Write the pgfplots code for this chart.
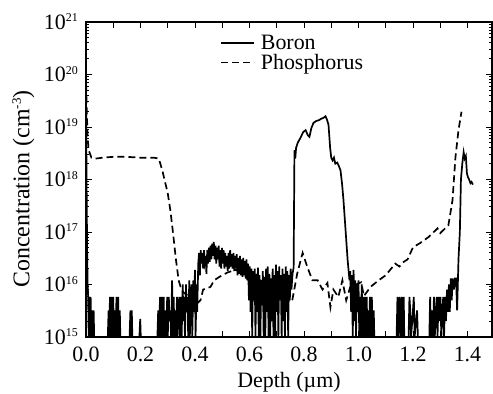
\documentclass[border=0pt]{standalone}
\usepackage{fontspec}
\setmainfont{Liberation Serif}
\usepackage{pgfplots}
\pgfplotsset{compat=1.18}
\newcommand{\tsup}[1]{\raisebox{7.5bp}{\fontsize{12}{12}\selectfont #1}}
\newcommand{\lsup}[1]{\raisebox{8.5bp}{\fontsize{13}{13}\selectfont #1}}
\begin{document}
\begin{tikzpicture}
\begin{axis}[
  at={(0,0)}, anchor=south west,
  scale only axis,
  width=406bp, height=315bp,
  ymode=log,
  xmin=0, xmax=1.49,
  ymin=1e15, ymax=1e21,
  xtick={0,0.1,...,1.41},
  xticklabels={0.0,,0.2,,0.4,,0.6,,0.8,,1.0,,1.2,,1.4},
  ytick={1e15,1e16,1e17,1e18,1e19,1e20,1e21},
  yticklabels={10\tsup{15},10\tsup{16},10\tsup{17},10\tsup{18},10\tsup{19},10\tsup{20},10\tsup{21}},
  tick align=inside,
  major tick length=6bp,
  minor tick length=3.5bp,
  tick style={line width=0.9bp, black},
  axis line style={line width=1.2bp},
  tick label style={font=\fontsize{22}{22}\selectfont},
  yticklabel style={anchor=base east, inner sep=0pt, xshift=-8bp, yshift=-7.5bp},
  xticklabel style={anchor=north, inner sep=0pt, yshift=-10bp},
  xlabel={Depth (µm)},
  ylabel={Concentration (cm\lsup{-3})},
  xlabel style={font=\fontsize{22}{22}\selectfont, at={(axis description cs:0.5,0)}, anchor=base, yshift=-51bp, inner sep=0pt},
  ylabel style={font=\fontsize{24}{24}\selectfont, at={(axis description cs:-0.154,0.47)}, anchor=center, rotate=0, inner sep=0pt},
  legend style={at={(axis description cs:0.33,0.965)}, anchor=north west, draw=none, fill=none,
    font=\fontsize{22}{22}\selectfont, row sep=-1bp, inner sep=0pt, nodes={inner sep=2bp}},
  legend cell align=left,
  legend image code/.code={\draw[#1] (0bp,0bp) -- (33bp,0bp); \path (37bp,0bp);},
]
\addplot[black, line width=1.7bp] coordinates {
(0.000,5e19)(0.002,1e18)(0.004,5e16)(0.006,1e16)(0.008,5.8e15)(0.010,1e15)(0.012,5.8e15)(0.014,1e15)
(0.017,5.8e15)(0.019,1e15)(0.022,3.2e15)(0.024,1e15)(0.028,3.2e15)(0.030,1e15)(0.080,1e15)(0.083,3.2e15)
(0.085,1e15)(0.088,5.8e15)(0.090,1e15)(0.094,5.8e15)(0.096,1e15)(0.100,5.8e15)(0.102,1e15)(0.106,3.2e15)
(0.108,1e15)(0.112,5.8e15)(0.114,1e15)(0.118,5.8e15)(0.120,1e15)(0.124,3.2e15)(0.126,1e15)(0.160,1e15)
(0.163,3.2e15)(0.165,1e15)(0.168,3.2e15)(0.170,1e15)(0.196,1e15)(0.199,2.2e15)(0.201,1e15)(0.262,1e15)
(0.265,3.2e15)(0.267,1e15)(0.272,5.8e15)(0.274,1e15)(0.279,5.8e15)(0.281,1e15)(0.285,5.8e15)(0.287,1e15)
(0.292,3.2e15)(0.294,1e15)(0.298,5.8e15)(0.300,1e15)(0.304,5.8e15)(0.306,2e15)(0.310,3.2e15)(0.312,1e15)
(0.316,1.2e16)(0.318,1e15)(0.322,5.8e15)(0.324,1e15)(0.328,3.2e15)(0.330,1e15)(0.334,5.8e15)(0.336,1e15)
(0.340,3.2e15)(0.342,5.8e15)(0.345,1e15)(0.349,5.8e15)(0.351,1e15)(0.355,1e16)(0.357,2e15)(0.361,5.8e15)
(0.363,1e15)(0.367,1e16)(0.369,3e15)(0.373,5.8e15)(0.375,1e15)(0.379,1.2e16)(0.381,1e15)(0.385,5.8e15)
(0.387,1e16)(0.390,1e15)(0.394,1.2e16)(0.396,3e15)(0.400,1.9e16)(0.402,1e15)(0.406,1e16)(0.408,3e15)
(0.412,2.5e16)(0.415,4e16)(0.418,1.5e16)(0.421,4.5e16)(0.424,2.5e16)(0.427,4e16)(0.430,2e16)(0.433,4.5e16)
(0.436,2.7e16)(0.439,3.5e16)(0.442,1.6e16)(0.445,4.5e16)(0.448,2.5e16)(0.451,5e16)(0.454,2.7e16)(0.457,5.5e16)
(0.460,3e16)(0.463,6e16)(0.466,3.5e16)(0.469,6.5e16)(0.472,3e16)(0.475,5.5e16)(0.478,2.5e16)(0.481,5e16)
(0.484,3e16)(0.487,5.5e16)(0.490,2.2e16)(0.493,4.5e16)(0.496,2e16)(0.499,5e16)(0.502,2.5e16)(0.505,4.5e16)
(0.508,2e16)(0.511,4e16)(0.514,2.2e16)(0.517,3.5e16)(0.520,1.8e16)(0.523,4e16)(0.526,2e16)(0.529,4.5e16)
(0.532,2.2e16)(0.535,3.8e16)(0.538,2e16)(0.541,4e16)(0.544,1.8e16)(0.547,3.5e16)(0.550,2e16)(0.553,3.8e16)
(0.556,1.5e16)(0.559,3.2e16)(0.562,1.6e16)(0.565,3.5e16)(0.568,1.5e16)(0.571,3e16)(0.574,1.4e16)(0.577,3.2e16)
(0.580,1.5e16)(0.583,2.8e16)(0.586,1.3e16)(0.589,3e16)(0.592,1.2e16)(0.595,2.5e16)(0.598,5e15)(0.601,2.2e16)
(0.604,3e15)(0.607,2e16)(0.610,1e15)(0.613,1.8e16)(0.616,5e15)(0.619,2e16)(0.622,1e15)(0.625,1.6e16)
(0.628,3e15)(0.631,2.1e16)(0.634,1e15)(0.637,1.5e16)(0.640,1e15)(0.643,1.2e16)(0.646,4e15)(0.649,1.8e16)
(0.652,1e15)(0.655,1.4e16)(0.658,1e15)(0.661,2e16)(0.664,3e15)(0.667,2.2e16)(0.670,1e15)(0.673,1.6e16)
(0.676,1e15)(0.679,1.3e16)(0.682,2e15)(0.685,2e16)(0.688,1e15)(0.691,1.5e16)(0.694,1e15)(0.697,2.4e16)
(0.700,3e15)(0.703,1.8e16)(0.706,1e15)(0.709,2.2e16)(0.712,5e15)(0.715,1.5e16)(0.718,1e15)(0.721,2e16)
(0.724,2e15)(0.727,1.6e16)(0.730,1e15)(0.733,2.2e16)(0.736,3e15)(0.739,1.8e16)(0.742,1e15)(0.745,1.5e16)
(0.748,5e15)(0.751,2e16)(0.754,8e15)(0.758,1.6e16)(0.762,2.1e16)(0.765,3.6e18)(0.768,2.5e18)(0.771,4e18)
(0.777,5e18)(0.787,6.2e18)(0.797,8e18)(0.806,8.7e18)(0.814,7e18)(0.820,6.5e18)(0.827,9.5e18)(0.835,1.2e19)
(0.845,1.3e19)(0.855,1.35e19)(0.865,1.45e19)(0.872,1.5e19)(0.879,1.6e19)(0.884,1.4e19)(0.890,1.1e19)(0.896,4e18)
(0.900,2.6e18)(0.905,2.3e18)(0.910,2.6e18)(0.915,2.0e18)(0.922,2.1e18)(0.928,1.8e18)(0.934,1.5e18)(0.940,8e17)
(0.945,4e17)(0.952,1.2e17)(0.960,3e16)(0.967,1.2e16)(0.970,1.8e16)(0.973,3e15)(0.976,1.5e16)(0.979,1e15)
(0.982,1.9e16)(0.985,2e15)(0.988,1.2e16)(0.991,1e15)(0.994,1e16)(0.997,3e15)(1.000,1.2e16)(1.003,1e15)
(1.006,5.8e15)(1.009,1e15)(1.012,1e16)(1.015,1e15)(1.018,5.8e15)(1.021,1e15)(1.024,5.8e15)(1.027,1e15)
(1.030,5.8e15)(1.033,1e15)(1.036,3.2e15)(1.039,1e15)(1.042,5.8e15)(1.045,1e15)(1.049,5.8e15)(1.052,1e15)
(1.056,3.2e15)(1.058,1e15)(1.140,1e15)(1.143,5.8e15)(1.145,1e15)(1.151,5.8e15)(1.153,1e15)(1.159,5.8e15)
(1.161,1e15)(1.166,5.8e15)(1.168,1e15)(1.184,1e15)(1.187,5.8e15)(1.190,3.2e15)(1.193,1e15)(1.200,3.2e15)
(1.203,5.8e15)(1.206,1e15)(1.215,3.2e15)(1.218,1e15)(1.260,1e15)(1.263,5.8e15)(1.266,1e15)(1.270,3.2e15)
(1.273,1e15)(1.277,5.8e15)(1.280,1e15)(1.284,3.2e15)(1.287,5.8e15)(1.290,1e15)(1.294,5.8e15)(1.297,2e15)
(1.301,5.8e15)(1.304,1e15)(1.308,3.2e15)(1.311,5.8e15)(1.314,1e15)(1.318,5.8e15)(1.321,2e15)(1.325,8e15)
(1.328,3e15)(1.332,1e16)(1.335,3e15)(1.339,1.3e16)(1.342,5e15)(1.346,1.3e16)(1.350,8e15)(1.354,1.3e16)
(1.358,1.3e16)(1.362,3.2e15)(1.367,3e16)(1.372,1e17)(1.376,1e18)(1.381,2e18)(1.386,3.3e18)(1.390,2.5e18)
(1.394,2.8e18)(1.398,1.3e18)(1.402,1.1e18)(1.406,1e18)(1.411,8.5e17)(1.415,9e17)(1.420,8e17)
};
\addlegendentry{Boron}
\addplot[black, line width=1.7bp, dash pattern=on 7bp off 4bp] coordinates {
(0,1e20)(0.003,2e19)(0.006,6e18)(0.01,3.6e18)(0.02,2.6e18)(0.035,2.5e18)(0.06,2.6e18)(0.1,2.7e18)
(0.15,2.7e18)(0.2,2.6e18)(0.25,2.6e18)(0.267,2.5e18)(0.28,1.5e18)(0.29,9e17)(0.30,5.5e17)(0.31,2.5e17)
(0.32,9e16)(0.33,3e16)(0.34,1.2e16)(0.35,8e15)(0.36,6.9e15)(0.38,5.8e15)(0.40,4e15)(0.42,5e15)
(0.43,8e15)(0.457,9e15)(0.47,1.2e16)(0.49,1.4e16)(0.52,1.7e16)(0.55,1.9e16)(0.58,1.7e16)(0.62,1.3e16)
(0.66,1.1e16)(0.70,9e15)(0.73,7e15)(0.757,5e15)(0.775,1.6e16)(0.795,4e16)(0.813,2.1e16)(0.831,1.2e16)
(0.85,1.2e16)(0.868,8e15)(0.886,1.07e16)(0.897,3.7e15)(0.908,8e15)(0.926,5.8e15)(0.941,1.2e16)(0.955,5e15)
(0.97,9e15)(0.99,1e16)(1.01,1.1e16)(1.02,6e15)(1.044,9e15)(1.074,1.2e16)(1.1,1.5e16)(1.135,2.5e16)
(1.15,2.2e16)(1.166,2.7e16)(1.18,3e16)(1.2,5.1e16)(1.227,6.2e16)(1.257,8e16)(1.29,1.17e17)(1.3,9.5e16)
(1.33,1.35e17)(1.345,4e17)(1.356,2.7e18)(1.367,8.7e18)(1.378,1.95e19)
};
\addlegendentry{Phosphorus}
\end{axis}
\pgfresetboundingbox
\path[use as bounding box] (-86bp,-57bp) rectangle (407bp,337bp);
\end{tikzpicture}
\end{document}
